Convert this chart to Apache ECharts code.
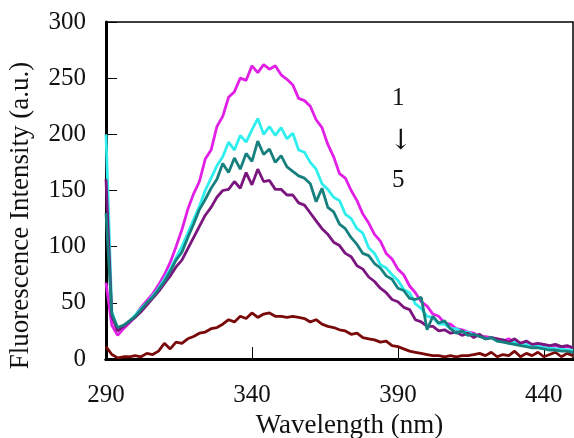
<!DOCTYPE html>
<html>
<head>
<meta charset="utf-8">
<script src="https://cdn.jsdelivr.net/npm/echarts@6/dist/echarts.min.js"></script>
<style>
  html, body { margin: 0; padding: 0; background: #fff; }
  #chart { width: 574px; height: 438px; }
</style>
</head>
<body>
<div id="chart"></div>
<script>
// wavelength, 290 .. 450 nm in 2 nm steps
var wavelengths = [];
for (var w = 290; w <= 450; w += 2) wavelengths.push(w);

var xTicks = [290, 340, 390, 440];

// spectrum 1 (highest) .. 5 (lowest)
var curve1 = [
  68, 30, 21, 27, 32, 38, 46, 52, 58, 66,
  75, 86, 100, 115, 133, 147, 158, 178, 186, 207,
  216, 233, 238, 250, 248, 261, 255, 262, 258, 261,
  253, 249, 244, 232, 230, 225, 213, 206, 191, 180,
  165, 161, 150, 141, 129, 121, 111, 105, 94, 89,
  80, 75, 65, 59, 51, 47, 40, 38, 32, 31,
  27, 26, 24, 23, 20, 20, 19, 18, 16, 18,
  15, 14, 15, 12, 13, 12, 11, 12, 10, 11,
  10
];
var curve2 = [
  200, 42, 27, 30, 33, 39, 45, 50, 56, 63,
  71, 80, 90, 100, 112, 124, 136, 150, 161, 172,
  180, 193, 186, 199, 193, 204, 214, 200, 207, 199,
  206, 196, 201, 186, 184, 175, 169, 156, 151, 144,
  141, 129, 125, 116, 112, 99, 94, 84, 81, 75,
  70, 62, 59, 49, 45, 38, 37, 31, 31, 27,
  27, 24, 24, 21, 21, 18, 19, 16, 17, 14,
  15, 12, 13, 11, 12, 10, 10, 9, 9, 8,
  8
];
var curve3 = [
  130, 40, 28, 30, 34, 38, 44, 50, 55, 62,
  69, 78, 88, 95, 108, 120, 133, 142, 152, 160,
  174, 166, 179, 169, 183, 176, 194, 182, 187, 175,
  181, 171, 167, 163, 161, 156, 140, 152, 135, 131,
  120, 116, 108, 102, 94, 92, 85, 81, 74, 71,
  63, 61, 54, 53, 55, 26, 38, 32, 34, 27,
  23, 25, 21, 22, 20, 18, 19, 16, 15, 14,
  13, 12, 11, 10, 10, 9, 8, 8, 7, 7,
  6
];
var curve4 = [
  160, 38, 25, 29, 33, 37, 42, 48, 54, 60,
  67, 74, 82, 88, 98, 108, 118, 128, 135, 144,
  150, 151, 158, 152, 166, 155, 169, 158, 159, 151,
  151, 146, 146, 139, 137, 130, 123, 116, 111, 104,
  101, 94, 91, 83, 80, 73, 69, 63, 59, 53,
  51, 46, 44, 35, 33, 29, 29, 25, 26, 23,
  24, 21, 23, 19, 22, 18, 19, 18, 17, 15,
  18, 14, 16, 13, 14, 13, 12, 13, 11, 12,
  10
];
var curve5 = [
  11, 4, 1, 2, 2, 3, 2, 5, 4, 7,
  14, 9, 15, 14, 18, 20, 23, 24, 27, 28,
  31, 35, 33, 38, 36, 41, 37, 40, 41, 38,
  38, 37, 38, 37, 36, 33, 35, 31, 29, 28,
  26, 25, 22, 23, 19, 18, 17, 15, 16, 12,
  11, 9, 7, 6, 5, 4, 3, 3, 2, 3,
  2, 3, 3, 4, 5, 3, 6, 2, 4, 3,
  7, 2, 5, 3, 6, 2, 4, 6, 2, 5,
  3
];

function pairs(vals) {
    var res = [];
    for (var i = 0; i < wavelengths.length; i++) {
        res.push([wavelengths[i], vals[i]]);
    }
    return res;
}

var serif = '"Liberation Serif", "DejaVu Serif", serif';

function line(color, vals, z) {
    return {
        type: 'line',
        data: pairs(vals),
        showSymbol: false,
        smooth: false,
        z: z,
        lineStyle: { color: color, width: 2.8 },
        itemStyle: { color: color },
        animation: false
    };
}

var chart = echarts.init(document.getElementById('chart'));
var option = {
    backgroundColor: '#fff',
    animation: false,
    grid: {
        left: 106, right: 1, top: 22, bottom: 79,
        outerBoundsMode: 'none',
        containLabel: false,
        show: true,
        borderColor: '#000',
        borderWidth: 1.5
    },
    xAxis: [{
        type: 'value',
        min: 290,
        max: 450,
        name: 'Wavelength (nm)',
        nameLocation: 'middle',
        nameGap: 51,
        nameTextStyle: { fontFamily: serif, fontSize: 27, color: '#111', padding: [0, 0, 0, 20] },
        axisLine: { onZero: false, lineStyle: { color: '#000', width: 3 } },
        axisTick: { inside: true, length: 12, customValues: xTicks, lineStyle: { color: '#000', width: 1 } },
        axisLabel: { customValues: xTicks, margin: 24, fontFamily: serif, fontSize: 25, color: '#111' },
        splitLine: { show: false }
    }, {
        type: 'value',
        position: 'top',
        min: 290,
        max: 450,
        axisLine: { show: true, lineStyle: { color: '#000', width: 3 } },
        axisTick: { show: false },
        axisLabel: { show: false },
        splitLine: { show: false }
    }],
    yAxis: {
        type: 'value',
        min: 0,
        max: 300,
        interval: 50,
        name: 'Fluorescence Intensity (a.u.)',
        nameLocation: 'middle',
        nameGap: 72,
        nameTextStyle: { fontFamily: serif, fontSize: 27, color: '#111', padding: [0, 50, 0, 0] },
        axisLine: { show: true, onZero: false, lineStyle: { color: '#000', width: 3 } },
        axisTick: { show: true, inside: true, length: 11, lineStyle: { color: '#000', width: 1 } },
        axisLabel: { margin: 20, fontFamily: serif, fontSize: 25, color: '#111' },
        splitLine: { show: false }
    },
    series: [
        line('#7a0a0a', curve5, 2),
        line('#e11fe6', curve1, 3),
        line('#2eeeee', curve2, 4),
        line('#7a167e', curve4, 5),
        line('#17807e', curve3, 6)
    ],
    graphic: [
        { type: 'text', left: 392, top: 86, style: { text: '1', font: '25px ' + serif, fill: '#111' } },
        { type: 'text', left: 389, top: 128, style: { text: '\u2193', font: '28px "DejaVu Serif", serif', fill: '#111' } },
        { type: 'text', left: 392, top: 168, style: { text: '5', font: '25px ' + serif, fill: '#111' } }
    ]
};
chart.setOption(option);
</script>
</body>
</html>
